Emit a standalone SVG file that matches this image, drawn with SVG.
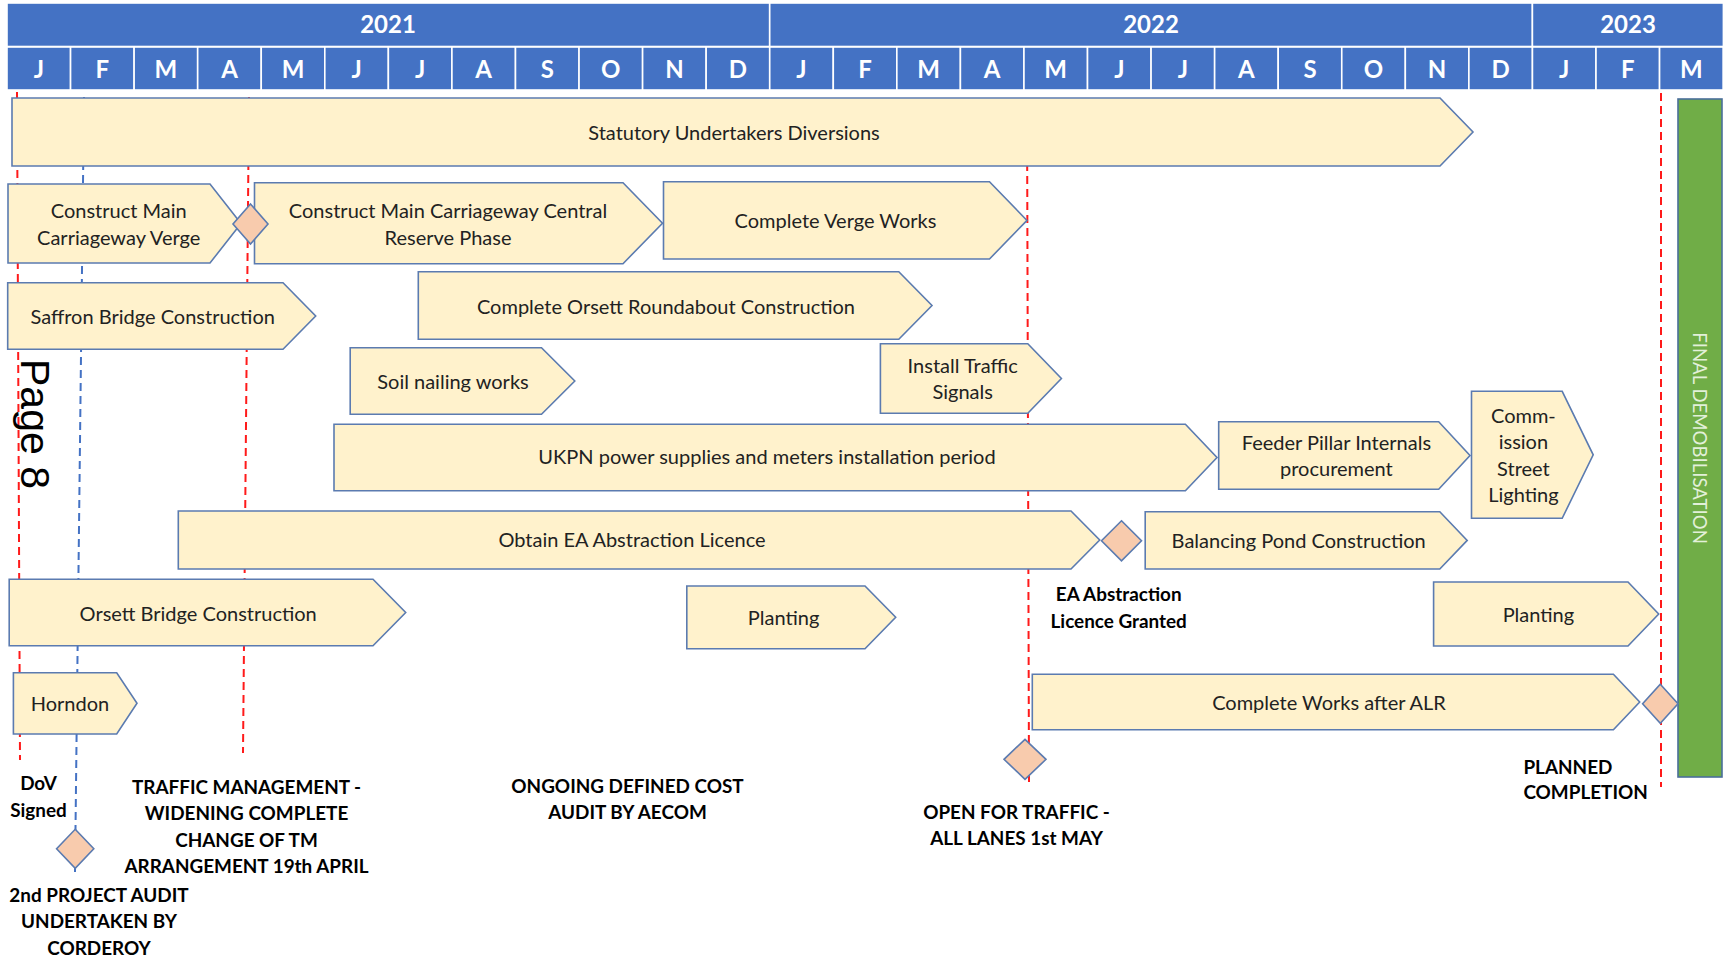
<svg xmlns="http://www.w3.org/2000/svg" width="1723" height="958" viewBox="0 0 1723 958">
<style>
.hdr{fill:#4472C4;stroke:#FFFFFF;stroke-width:1.6}
.hy{font-family:Lato,"Open Sans",sans-serif;font-weight:700;font-size:24px;fill:#FFFFFF;text-anchor:middle}
.bar{fill:#FFF2CC;stroke:#5B7BB0;stroke-width:1.6}
.ms{fill:#F8CBAD;stroke:#5B7BB0;stroke-width:1.6}
.t{font-family:Lato,"Open Sans",sans-serif;font-size:20px;fill:#222222;text-anchor:middle}
.b{font-family:Lato,"Open Sans",sans-serif;font-weight:700;font-size:18.9px;fill:#000000;text-anchor:middle}
.red{stroke:#FF1A1A;stroke-width:2;stroke-dasharray:8 5;fill:none}
.blue{stroke:#4472C4;stroke-width:2;stroke-dasharray:8 5;fill:none}
</style>
<rect width="1723" height="958" fill="#FFFFFF"/>
<g id="header">
<rect class="hdr" x="7" y="3" width="762.7" height="43.5"/>
<rect class="hdr" x="769.7" y="3" width="762.7" height="43.5"/>
<rect class="hdr" x="1532.4" y="3" width="191" height="43.5"/>
<text class="hy" x="388" y="33">2021</text>
<text class="hy" x="1151" y="33">2022</text>
<text class="hy" x="1628" y="33">2023</text>
<rect class="hdr" x="7" y="47" width="63.56" height="43"/>
<rect class="hdr" x="70.56" y="47" width="63.56" height="43"/>
<rect class="hdr" x="134.12" y="47" width="63.56" height="43"/>
<rect class="hdr" x="197.68" y="47" width="63.56" height="43"/>
<rect class="hdr" x="261.24" y="47" width="63.56" height="43"/>
<rect class="hdr" x="324.8" y="47" width="63.56" height="43"/>
<rect class="hdr" x="388.36" y="47" width="63.56" height="43"/>
<rect class="hdr" x="451.92" y="47" width="63.56" height="43"/>
<rect class="hdr" x="515.48" y="47" width="63.56" height="43"/>
<rect class="hdr" x="579.04" y="47" width="63.56" height="43"/>
<rect class="hdr" x="642.6" y="47" width="63.56" height="43"/>
<rect class="hdr" x="706.16" y="47" width="63.56" height="43"/>
<rect class="hdr" x="769.72" y="47" width="63.56" height="43"/>
<rect class="hdr" x="833.28" y="47" width="63.56" height="43"/>
<rect class="hdr" x="896.84" y="47" width="63.56" height="43"/>
<rect class="hdr" x="960.4" y="47" width="63.56" height="43"/>
<rect class="hdr" x="1023.96" y="47" width="63.56" height="43"/>
<rect class="hdr" x="1087.52" y="47" width="63.56" height="43"/>
<rect class="hdr" x="1151.08" y="47" width="63.56" height="43"/>
<rect class="hdr" x="1214.64" y="47" width="63.56" height="43"/>
<rect class="hdr" x="1278.2" y="47" width="63.56" height="43"/>
<rect class="hdr" x="1341.76" y="47" width="63.56" height="43"/>
<rect class="hdr" x="1405.32" y="47" width="63.56" height="43"/>
<rect class="hdr" x="1468.88" y="47" width="63.56" height="43"/>
<rect class="hdr" x="1532.44" y="47" width="63.56" height="43"/>
<rect class="hdr" x="1596" y="47" width="63.56" height="43"/>
<rect class="hdr" x="1659.56" y="47" width="63.56" height="43"/>
<text class="hy" y="78"><tspan x="38.8">J</tspan><tspan x="102.3">F</tspan><tspan x="165.9">M</tspan><tspan x="229.5">A</tspan><tspan x="293">M</tspan><tspan x="356.6">J</tspan><tspan x="420.1">J</tspan><tspan x="483.7">A</tspan><tspan x="547.3">S</tspan><tspan x="610.8">O</tspan><tspan x="674.4">N</tspan><tspan x="737.9">D</tspan><tspan x="801.5">J</tspan><tspan x="865.1">F</tspan><tspan x="928.6">M</tspan><tspan x="992.2">A</tspan><tspan x="1055.7">M</tspan><tspan x="1119.3">J</tspan><tspan x="1182.9">J</tspan><tspan x="1246.4">A</tspan><tspan x="1310">S</tspan><tspan x="1373.5">O</tspan><tspan x="1437.1">N</tspan><tspan x="1500.7">D</tspan><tspan x="1564.2">J</tspan><tspan x="1627.8">F</tspan><tspan x="1691.3">M</tspan></text>
</g>
<g id="connectors">
<line class="red" x1="17" y1="92" x2="20" y2="760"/>
<line class="blue" x1="84" y1="97" x2="75" y2="872"/>
<line class="red" x1="249" y1="97" x2="243" y2="753"/>
<line class="red" x1="1027" y1="98" x2="1029" y2="782"/>
<line class="red" x1="1661" y1="93" x2="1661" y2="787"/>
</g>
<g id="statutory"><path class="bar" d="M12 98H1440L1473 132L1440 166H12Z"/><text class="t" x="734" y="140">Statutory Undertakers Diversions</text></g>
<g id="construct-verge"><path class="bar" d="M8 184H210L241 223.5L210 263H8Z"/><text class="t" x="118.7" y="217.5">Construct Main</text><text class="t" x="118.7" y="245">Carriageway Verge</text></g>
<g id="central-reserve"><path class="bar" d="M254.5 182.7H623L662.5 223.2L623 263.7H254.5Z"/><text class="t" x="448" y="217.5">Construct Main Carriageway Central</text><text class="t" x="448" y="245">Reserve Phase</text></g>
<g id="complete-verge"><path class="bar" d="M663.5 181.7H989.5L1027 220.4L989.5 259H663.5Z"/><text class="t" x="835.5" y="228.3">Complete Verge Works</text></g>
<g id="saffron"><path class="bar" d="M7.7 282.7H283L315.7 316L283 349.3H7.7Z"/><text class="t" x="152.7" y="324.3">Saffron Bridge Construction</text></g>
<g id="orsett-roundabout"><path class="bar" d="M418.3 271.7H898.8L932 305.5L898.8 339.3H418.3Z"/><text class="t" x="666" y="314.3">Complete Orsett Roundabout Construction</text></g>
<g id="soil-nailing"><path class="bar" d="M350.2 347.7H541.5L574.8 381L541.5 414.3H350.2Z"/><text class="t" x="453" y="389.3">Soil nailing works</text></g>
<g id="traffic-signals"><path class="bar" d="M880.4 343.7H1027.8L1061.4 378.5L1027.8 413.3H880.4Z"/><text class="t" x="962.7" y="373.3">Install Traffic</text><text class="t" x="962.7" y="399.3">Signals</text></g>
<g id="ukpn"><path class="bar" d="M334 424.3H1185.4L1217 457.5L1185.4 490.7H334Z"/><text class="t" x="767" y="464.3">UKPN power supplies and meters installation period</text></g>
<g id="feeder-pillar"><path class="bar" d="M1218.7 421.7H1438.7L1470 455.5L1438.7 489.3H1218.7Z"/><text class="t" x="1336.4" y="450">Feeder Pillar Internals</text><text class="t" x="1336.4" y="476">procurement</text></g>
<g id="commission-lighting"><path class="bar" d="M1471.5 391.3H1562.2L1593.2 454.8L1562.2 518.3H1471.5Z"/><text class="t" x="1523.4" y="422.7">Comm-</text><text class="t" x="1523.4" y="449.3">ission</text><text class="t" x="1523.4" y="476">Street</text><text class="t" x="1523.4" y="502">Lighting</text></g>
<g id="ea-licence"><path class="bar" d="M178.3 511H1071L1099.7 540L1071 569H178.3Z"/><text class="t" x="632" y="546.7">Obtain EA Abstraction Licence</text></g>
<g id="balancing-pond"><path class="bar" d="M1145.2 511.7H1439.8L1467.2 540.4L1439.8 569H1145.2Z"/><text class="t" x="1298.7" y="548.3">Balancing Pond Construction</text></g>
<g id="orsett-bridge"><path class="bar" d="M9.2 579.3H373L405.7 612.5L373 645.7H9.2Z"/><text class="t" x="198.2" y="620.7">Orsett Bridge Construction</text></g>
<g id="planting-1"><path class="bar" d="M686.8 586H865L895.7 617.3L865 648.7H686.8Z"/><text class="t" x="783.6" y="625">Planting</text></g>
<g id="planting-2"><path class="bar" d="M1433.6 582H1628L1658.7 614L1628 646H1433.6Z"/><text class="t" x="1538.4" y="622.3">Planting</text></g>
<g id="horndon"><path class="bar" d="M13.4 672.7H116.7L137 703.3L116.7 734H13.4Z"/><text class="t" x="70" y="710.7">Horndon</text></g>
<g id="works-after-alr"><path class="bar" d="M1032.3 674.3H1613.4L1639.7 702L1613.4 729.7H1032.3Z"/><text class="t" x="1329" y="710">Complete Works after ALR</text></g>
<g id="final-demob"><rect x="1678" y="99" width="44" height="678" fill="#70AD47" stroke="#4A6E9A" stroke-width="1.6"/><text transform="translate(1699,438) rotate(90)" x="0" y="6.5" style="font-family:Lato,'Open Sans',sans-serif;font-size:18.6px;fill:#E2F0D9;text-anchor:middle">FINAL DEMOBILISATION</text></g>
<g id="milestone-tm"><path class="ms" d="M250.5 204L268 224L250.5 244L233 224Z"/></g>
<g id="milestone-ea"><path class="ms" d="M1121.5 520.8L1141.5 540.8L1121.5 560.8L1101.5 540.8Z"/><text class="b" x="1118.7" y="600.7">EA Abstraction</text><text class="b" x="1118.7" y="627.7">Licence Granted</text></g>
<g id="milestone-completion"><path class="ms" d="M1660.3 684.3L1678 703.8L1660.3 723.3L1642.6 703.8Z"/><text class="b" x="1523.4" y="773.7" style="text-anchor:start">PLANNED</text><text class="b" x="1523.4" y="799.3" style="text-anchor:start">COMPLETION</text></g>
<g id="milestone-open"><path class="ms" d="M1025 739.3L1046 759.3L1025 779.3L1004 759.3Z"/><text class="b" x="1016.5" y="819">OPEN FOR TRAFFIC -</text><text class="b" x="1016.5" y="845">ALL LANES 1st MAY</text></g>
<g id="milestone-audit"><path class="ms" d="M75.2 829.3L93.8 848.8L75.2 868.3L56.6 848.8Z"/><text class="b" x="99" y="902.3">2nd PROJECT AUDIT</text><text class="b" x="99" y="928.3">UNDERTAKEN BY</text><text class="b" x="99" y="955">CORDEROY</text></g>
<g id="label-dov"><text class="b" x="38.5" y="790">DoV</text><text class="b" x="38.5" y="816.7">Signed</text></g>
<g id="label-tm"><text class="b" x="246.5" y="794">TRAFFIC MANAGEMENT -</text><text class="b" x="246.5" y="820">WIDENING COMPLETE</text><text class="b" x="246.5" y="847.3">CHANGE OF TM</text><text class="b" x="246.5" y="873.3">ARRANGEMENT 19th APRIL</text></g>
<g id="label-ongoing"><text class="b" x="627.5" y="792.7">ONGOING DEFINED COST</text><text class="b" x="627.5" y="818.7">AUDIT BY AECOM</text></g>
<g id="page-label"><text transform="translate(21,359) rotate(90)" x="0" y="0" style="font-family:'Liberation Sans',Arial,sans-serif;font-size:41px;fill:#000000">Page 8</text></g>
</svg>
